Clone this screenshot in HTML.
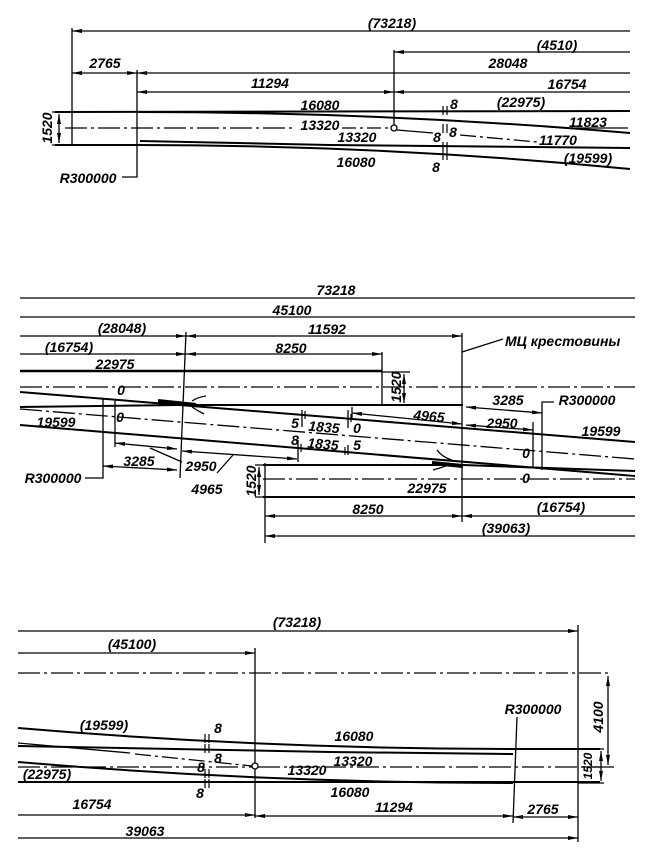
<!DOCTYPE html>
<html><head><meta charset="utf-8"><style>
html,body{margin:0;padding:0;background:#fff;}
svg{display:block;}
</style></head><body>
<svg width="654" height="865" viewBox="0 0 654 865" xmlns="http://www.w3.org/2000/svg">
<defs>
<marker id="a" viewBox="0 0 10 4" refX="10" refY="2" markerWidth="10" markerHeight="4" markerUnits="userSpaceOnUse" orient="auto-start-reverse"><path d="M0,0L10,2L0,4z" fill="#000"/></marker>
</defs>
<rect width="654" height="865" fill="#fff"/>

<!-- ================= TOP DIAGRAM ================= -->
<g stroke="#000" fill="none" stroke-width="1.3">
  <path d="M72,31H630" marker-start="url(#a)"/>
  <path d="M72,28V146"/>
  <path d="M394,52H630" marker-start="url(#a)"/>
  <path d="M394,50V125"/>
  <path d="M72,73H137" marker-start="url(#a)" marker-end="url(#a)"/>
  <path d="M137,73H630" marker-start="url(#a)"/>
  <path d="M137,92H394" marker-start="url(#a)" marker-end="url(#a)"/>
  <path d="M394,92H630" marker-start="url(#a)"/>
  <path d="M137,70V177H122"/>
  <path d="M59,114V143" marker-start="url(#a)" marker-end="url(#a)"/>
  <path d="M52,112H57M52,145H57"/>
</g>
<g stroke="#000" fill="none" stroke-width="2">
  <path d="M55,112L630,111"/>
  <path d="M137,112Q383.5,112 630,133"/>
  <path d="M140,141L330,145L630,148"/>
  <path d="M55,145L137,145Q383.5,145 630,169"/>
</g>
<g stroke="#000" fill="none" stroke-width="1.3">
  <path d="M65,128H296" stroke-dasharray="22 4 3 4"/>
  <path d="M342,128H391" stroke-dasharray="14 4 3 4"/>
  <path d="M397,130L433,133"/>
  <path d="M460,135L537,142" stroke-dasharray="16 4 3 4"/>
  <path d="M570,128H628"/>
  <path d="M443,106v9M447,106v9M443,124v9M447,124v9M443,142v9M447,142v9M443,151v9M447,151v9" stroke-width="1.2"/>
</g>
<circle cx="394" cy="128" r="3" fill="#fff" stroke="#000" stroke-width="1.3"/>

<!-- ================= MIDDLE DIAGRAM ================= -->
<g stroke="#000" fill="none" stroke-width="1.3">
  <path d="M20,298H635"/>
  <path d="M20,317H635"/>
  <path d="M20,336H186" marker-end="url(#a)"/>
  <path d="M186,336H462" marker-start="url(#a)" marker-end="url(#a)"/>
  <path d="M20,354H186" marker-end="url(#a)"/>
  <path d="M186,354H382" marker-start="url(#a)" marker-end="url(#a)"/>
  <path d="M186,332L180,478"/>
  <path d="M382,352V405"/>
  <path d="M382,372H410"/>
  <path d="M404,374V403" marker-start="url(#a)" marker-end="url(#a)"/>
  <path d="M462,333V522"/>
  <path d="M462,352L503,339"/>
  <path d="M20,387H635" stroke-dasharray="22 4 3 4"/>
  <path d="M20,409L635,459" stroke-dasharray="22 4 3 4"/>
  <path d="M263,479H635" stroke-dasharray="22 4 3 4"/>
  <!-- left dims -->
  <path d="M103,398V478H85"/>
  <path d="M115,400V447"/>
  <path d="M103,466L177,470" marker-start="url(#a)" marker-end="url(#a)"/>
  <path d="M115,443L177,449" marker-start="url(#a)" marker-end="url(#a)"/>
  <path d="M182,451L297,459" marker-start="url(#a)" marker-end="url(#a)"/>
  <path d="M150,448L182,462"/>
  <path d="M217,473L233,455"/>
  <path d="M298,440V462"/>
  <!-- joints -->
  <path d="M302,410V427M348,410V428M348,445V455"/>
  <path d="M305,411v8M351,414v8M301,444v8M345,447v8" stroke-width="1.2"/>
  <!-- right dims -->
  <path d="M352,413L462,424" marker-start="url(#a)" marker-end="url(#a)"/>
  <path d="M352,407V418"/>
  <path d="M466,407L542,413" marker-start="url(#a)" marker-end="url(#a)"/>
  <path d="M466,425L533,430" marker-start="url(#a)" marker-end="url(#a)"/>
  <path d="M533,422V468"/>
  <path d="M542,470V402H554"/>
  <!-- lower -->
  <path d="M265,463V543"/>
  <path d="M255,465H265M255,497H265"/>
  <path d="M259,467V495" marker-start="url(#a)" marker-end="url(#a)"/>
  <path d="M265,516H462" marker-start="url(#a)" marker-end="url(#a)"/>
  <path d="M462,516H635" marker-start="url(#a)"/>
  <path d="M265,536H635" marker-start="url(#a)"/>
</g>
<g stroke="#000" fill="none" stroke-width="2">
  <path d="M20,371H382" stroke-width="2.4"/>
  <path d="M20,407L180,405L463,405"/>
  <path d="M20,392L635,442"/>
  <path d="M20,425L635,476"/>
  <path d="M263,465L463,465L635,471"/>
  <path d="M263,497H635"/>
  <!-- blobs -->
  <path d="M158,401L196,405" stroke-width="4"/>
  <path d="M192,401Q198,397 206,396M192,407Q198,411 204,414" stroke-width="1.3"/>
  <path d="M432,463L463,466" stroke-width="4"/>
  <path d="M437,450Q442,457 452,460M433,470Q440,468 446,466" stroke-width="1.3"/>
</g>

<!-- ================= BOTTOM DIAGRAM ================= -->
<g stroke="#000" fill="none" stroke-width="1.3">
  <path d="M18,631H578" marker-end="url(#a)"/>
  <path d="M18,653H255" marker-end="url(#a)"/>
  <path d="M18,673H612" stroke-dasharray="22 4 3 4"/>
  <path d="M255,648V818"/>
  <path d="M578,625V842"/>
  <path d="M608,676V765" marker-start="url(#a)" marker-end="url(#a)"/>
  <path d="M582,767H614"/>
  <path d="M578,749H604M578,783H604"/>
  <path d="M601,751V781" marker-start="url(#a)" marker-end="url(#a)"/>
  <path d="M18,767H252" stroke-dasharray="22 4 3 4"/>
  <path d="M258,767H600" stroke-dasharray="22 4 3 4"/>
  <path d="M18,743L130,753"/>
  <path d="M135,754L252,766" stroke-dasharray="16 4 3 4"/>
  <path d="M205,734v9M209,734v9M205,744v9M209,744v9M205,769v9M209,769v9M205,779v9M209,779v9" stroke-width="1.2"/>
  <path d="M517,717L513,823"/>
  <path d="M18,815H255" marker-end="url(#a)"/>
  <path d="M255,816H513" marker-start="url(#a)" marker-end="url(#a)"/>
  <path d="M513,817H578" marker-start="url(#a)" marker-end="url(#a)"/>
  <path d="M18,838H578" marker-end="url(#a)"/>
</g>
<g stroke="#000" fill="none" stroke-width="2">
  <path d="M600,749L513,749Q265.5,749 18,728"/>
  <path d="M513,754L330,752L18,746"/>
  <path d="M513,783Q265.5,783 18,762"/>
  <path d="M18,782H600"/>
</g>
<circle cx="255" cy="766" r="3" fill="#fff" stroke="#000" stroke-width="1.3"/>

<!-- ================= TEXT ================= -->
<g font-family="'Liberation Sans', sans-serif" font-style="italic" font-weight="bold" font-size="14" text-anchor="middle" fill="#000">
  <!-- top -->
  <text x="392" y="28">(73218)</text>
  <text x="105" y="68">2765</text>
  <text x="557" y="50">(4510)</text>
  <text x="508" y="68">28048</text>
  <text x="270" y="88">11294</text>
  <text x="567" y="89">16754</text>
  <text x="320" y="110">16080</text>
  <text x="521" y="107">(22975)</text>
  <text x="454" y="109">8</text>
  <text x="320" y="130">13320</text>
  <text x="588" y="127">11823</text>
  <text x="357" y="142">13320</text>
  <text x="453" y="137">8</text>
  <text x="437" y="142">8</text>
  <text x="558" y="145">11770</text>
  <text x="356" y="167">16080</text>
  <text x="588" y="163">(19599)</text>
  <text x="436" y="172">8</text>
  <text transform="translate(52,128) rotate(-90)">1520</text>
  <text x="88" y="183">R300000</text>

  <!-- middle -->
  <text x="336" y="295">73218</text>
  <text x="292" y="315">45100</text>
  <text x="122" y="333">(28048)</text>
  <text x="327" y="334">11592</text>
  <text x="69" y="352">(16754)</text>
  <text x="291" y="353">8250</text>
  <text x="115" y="369">22975</text>
  <text x="121" y="395">0</text>
  <text x="120" y="422">0</text>
  <text x="56" y="427">19599</text>
  <text transform="translate(401,387) rotate(-90)">1520</text>
  <text x="505" y="346" text-anchor="start">МЦ крестовины</text>
  <text x="508" y="405">3285</text>
  <text x="587" y="405">R300000</text>
  <text x="429" y="421" transform="rotate(5 429 416)">4965</text>
  <text x="502" y="428">2950</text>
  <text x="601" y="436">19599</text>
  <text x="295" y="428">5</text>
  <text x="324" y="432" transform="rotate(5 324 427)">1835</text>
  <text x="357" y="433">0</text>
  <text x="295" y="445">8</text>
  <text x="323" y="449" transform="rotate(5 323 444)">1835</text>
  <text x="357" y="450">5</text>
  <text x="526" y="458">0</text>
  <text x="526" y="483">0</text>
  <text x="427" y="493">22975</text>
  <text x="368" y="514">8250</text>
  <text x="561" y="512">(16754)</text>
  <text x="506" y="533">(39063)</text>
  <text transform="translate(256,481) rotate(-90)">1520</text>
  <text x="139" y="466">3285</text>
  <text x="201" y="471">2950</text>
  <text x="207" y="494">4965</text>
  <text x="53" y="483">R300000</text>

  <!-- bottom -->
  <text x="297" y="627">(73218)</text>
  <text x="132" y="649">(45100)</text>
  <text transform="translate(603,717) rotate(-90)">4100</text>
  <text x="533" y="714">R300000</text>
  <text x="104" y="730">(19599)</text>
  <text x="354" y="741">16080</text>
  <text x="218" y="733">8</text>
  <text x="218" y="763">8</text>
  <text x="201" y="772">8</text>
  <text x="353" y="766">13320</text>
  <text x="307" y="775">13320</text>
  <text x="47" y="779">(22975)</text>
  <text x="200" y="798">8</text>
  <text x="350" y="797">16080</text>
  <text transform="translate(592,766) rotate(-90)" font-size="12">1520</text>
  <text x="92" y="809">16754</text>
  <text x="394" y="812">11294</text>
  <text x="543" y="814">2765</text>
  <text x="145" y="836">39063</text>
</g>
</svg>
</body></html>
